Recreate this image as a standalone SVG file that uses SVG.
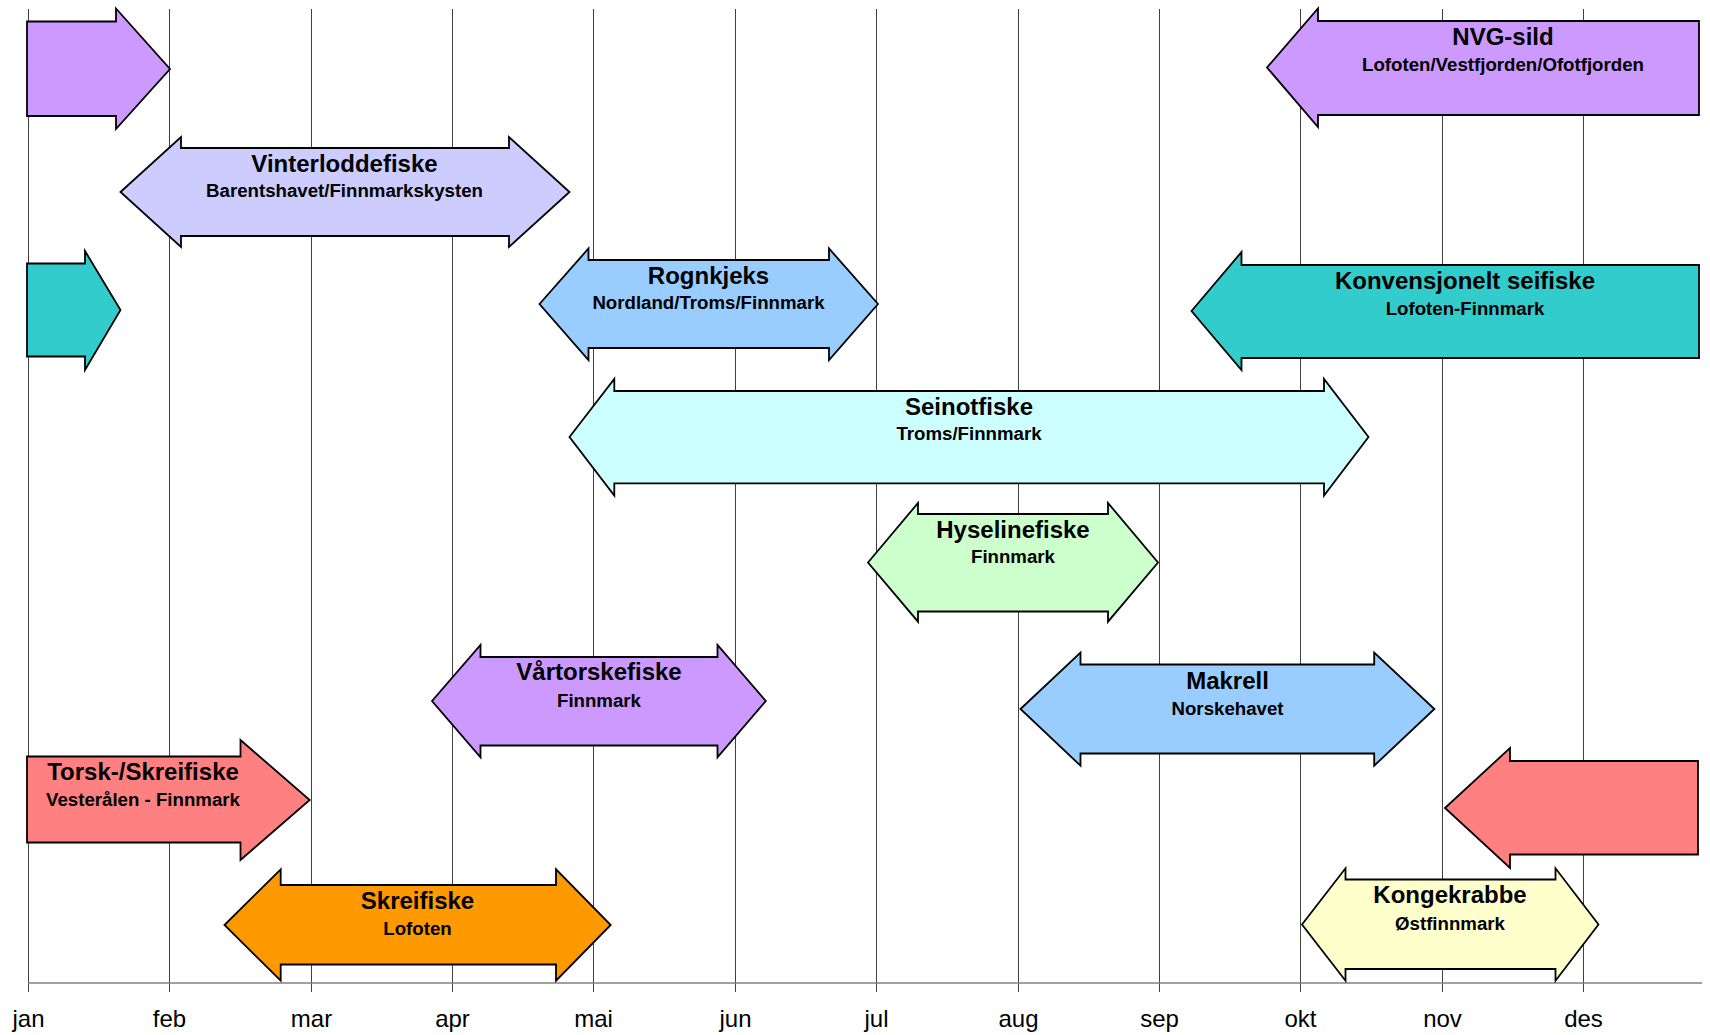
<svg xmlns="http://www.w3.org/2000/svg" width="1710" height="1035" viewBox="0 0 1710 1035">
<style>
.grid{stroke:#404040;stroke-width:1;fill:none}
.axis{stroke:#808080;stroke-width:1.5;fill:none}
.arr{stroke:#000;stroke-width:1.8;stroke-linejoin:miter}
.t{font-family:"Liberation Sans",Arial,sans-serif;font-weight:bold;font-size:24px;text-anchor:middle;fill:#000}
.s{font-family:"Liberation Sans",Arial,sans-serif;font-weight:bold;font-size:18.67px;text-anchor:middle;fill:#000}
.m{font-family:"Liberation Sans",Arial,sans-serif;font-size:24px;text-anchor:middle;fill:#000}
</style>
<rect width="1710" height="1035" fill="#fff"/>
<g id="grid">
<path class="grid" d="M28.5 9V992M169.5 9V992M311.5 9V992M452.5 9V992M593.5 9V992M735.5 9V992M876.5 9V992M1018.5 9V992M1159.5 9V992M1300.5 9V992M1442.5 9V992M1583.5 9V992"/>
<path class="axis" d="M28 983H1702"/>
</g>
<g id="months">
<text class="m" x="28.5" y="1027">jan</text>
<text class="m" x="169.5" y="1027">feb</text>
<text class="m" x="311.5" y="1027">mar</text>
<text class="m" x="452.5" y="1027">apr</text>
<text class="m" x="593.5" y="1027">mai</text>
<text class="m" x="735.5" y="1027">jun</text>
<text class="m" x="876.5" y="1027">jul</text>
<text class="m" x="1018.5" y="1027">aug</text>
<text class="m" x="1159.5" y="1027">sep</text>
<text class="m" x="1300.5" y="1027">okt</text>
<text class="m" x="1442.5" y="1027">nov</text>
<text class="m" x="1583.5" y="1027">des</text>
</g>
<g id="nvg-jan">
<polygon class="arr" fill="#CC99FF" points="27,21.5 116,21.5 116,8.5 170,69 116,129 116,116 27,116"/>
</g>
<g id="vinterlodde">
<polygon class="arr" fill="#CCCCFF" points="120.5,192 181,137 181,148 509,148 509,137 569.5,192 509,247 509,236 181,236 181,247"/>
<text class="t" x="344.5" y="172.3">Vinterloddefiske</text>
<text class="s" x="344.5" y="196.7">Barentshavet/Finnmarkskysten</text>
</g>
<g id="nvg-sild">
<polygon class="arr" fill="#CC99FF" points="1267,67.5 1318,8.5 1318,21 1699,21 1699,115 1318,115 1318,127"/>
<text class="t" x="1503" y="45">NVG-sild</text>
<text class="s" x="1503" y="71">Lofoten/Vestfjorden/Ofotfjorden</text>
</g>
<g id="sei-jan">
<polygon class="arr" fill="#33CCCC" points="27,263.5 85,263.5 85,251 120.5,310 85,370 85,356.5 27,356.5"/>
</g>
<g id="seifiske">
<polygon class="arr" fill="#33CCCC" points="1191.5,311 1241.5,252 1241.5,265 1699,265 1699,358 1241.5,358 1241.5,370"/>
<text class="t" x="1465" y="289.3">Konvensjonelt seifiske</text>
<text class="s" x="1465" y="315">Lofoten-Finnmark</text>
</g>
<g id="rognkjeks">
<polygon class="arr" fill="#99CCFF" points="539.5,304 588.5,248.5 588.5,260 829,260 829,248.5 878,304 829,360 829,348 588.5,348 588.5,360"/>
<text class="t" x="708.5" y="283.5">Rognkjeks</text>
<text class="s" x="708.5" y="308.5">Nordland/Troms/Finnmark</text>
</g>
<g id="seinotfiske">
<polygon class="arr" fill="#CCFFFF" points="569.5,437 614.3,379 614.3,391 1324,391 1324,379 1368.5,437 1324,495.5 1324,483.3 614.3,483.3 614.3,495.5"/>
<text class="t" x="969" y="415">Seinotfiske</text>
<text class="s" x="969" y="440">Troms/Finnmark</text>
</g>
<g id="hyselinefiske">
<polygon class="arr" fill="#CCFFCC" points="868,562.5 918,503 918,514 1108,514 1108,503 1158,562.5 1108,621.7 1108,611.5 918,611.5 918,621.7"/>
<text class="t" x="1013" y="538.3">Hyselinefiske</text>
<text class="s" x="1013" y="562.7">Finnmark</text>
</g>
<g id="vartorskefiske">
<polygon class="arr" fill="#CC99FF" points="432,701 480.5,645 480.5,657 717.5,657 717.5,645 765.8,701 717.5,757.3 717.5,745.5 480.5,745.5 480.5,757.3"/>
<text class="t" x="599" y="680">Vårtorskefiske</text>
<text class="s" x="599" y="706.5">Finnmark</text>
</g>
<g id="makrell">
<polygon class="arr" fill="#99CCFF" points="1020.5,709 1080.5,652.5 1080.5,664.5 1374.2,664.5 1374.2,652.5 1434.4,709 1374.2,765.7 1374.2,753.5 1080.5,753.5 1080.5,765.7"/>
<text class="t" x="1227.5" y="689.3">Makrell</text>
<text class="s" x="1227.5" y="715">Norskehavet</text>
</g>
<g id="torsk">
<polygon class="arr" fill="#FF8080" points="27,756.5 240.5,756.5 240.5,740 309.7,800 240.5,860 240.5,842.5 27,842.5"/>
<text class="t" x="143" y="780">Torsk-/Skreifiske</text>
<text class="s" x="143" y="805.7">Vesterålen - Finnmark</text>
</g>
<g id="torsk-des">
<polygon class="arr" fill="#FF8080" points="1445,808 1510,748 1510,761 1698,761 1698,854.5 1510,854.5 1510,868"/>
</g>
<g id="skreifiske">
<polygon class="arr" fill="#FF9900" points="224.5,925 280.7,869.3 280.7,885 556,885 556,869.3 610.7,925 556,980.7 556,964.5 280.7,964.5 280.7,980.7"/>
<text class="t" x="417.5" y="909.3">Skreifiske</text>
<text class="s" x="417.5" y="935">Lofoten</text>
</g>
<g id="kongekrabbe">
<polygon class="arr" fill="#FFFFCC" points="1302,924.5 1345.5,868.3 1345.5,879.5 1555.5,879.5 1555.5,868.3 1598.5,924.5 1555.5,980.7 1555.5,969 1345.5,969 1345.5,980.7"/>
<text class="t" x="1450" y="903.3">Kongekrabbe</text>
<text class="s" x="1450" y="930">Østfinnmark</text>
</g>
</svg>
